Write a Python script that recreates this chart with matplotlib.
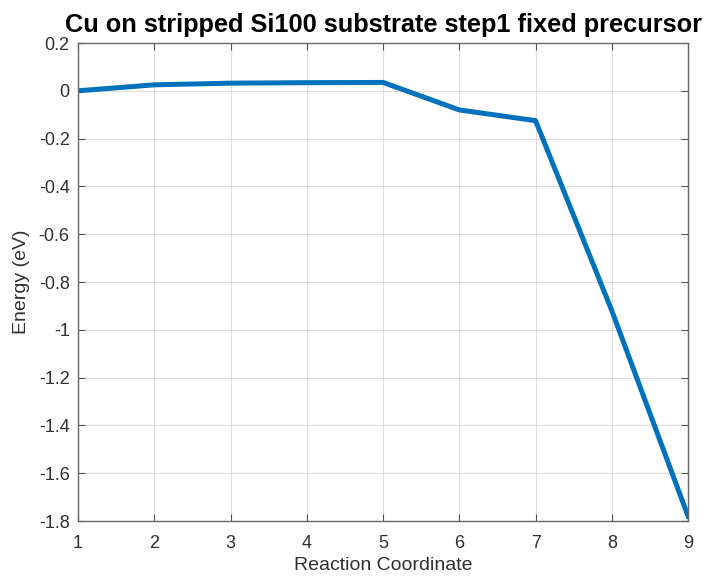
import numpy as np
import matplotlib.pyplot as plt

plt.rcParams['font.family'] = ['Liberation Sans', 'DejaVu Sans']

# reaction coordinate vs energy
coord = [1, 2, 3, 4, 5, 6, 7, 8, 9]
energy = [0.0, 0.025, 0.032, 0.034, 0.035, -0.08, -0.125, -0.92, -1.78]

fig = plt.figure(figsize=(7.16, 5.78), dpi=100)
ax = fig.add_axes([0.109, 0.0986, 0.852, 0.827])

ax.plot(coord, energy, color='#0072BD', linewidth=3.6)

ax.set_xlim(1, 9)
ax.set_ylim(-1.8, 0.2)
ax.set_xticks(np.arange(1, 10))
yt = np.round(np.arange(-1.8, 0.21, 0.2), 1)
ax.set_yticks(yt)
ax.set_yticklabels(['0' if v == 0 else '%g' % v for v in yt])

ax.grid(True, color='#dcdcdc', linewidth=0.8)
ax.tick_params(direction='in', length=5, labelsize=13, colors='#555555',
               labelcolor='#303030', top=True, right=True)
ax.tick_params(axis='x', pad=10)
ax.tick_params(axis='y', pad=6)
for s in ax.spines.values():
    s.set_color('#666666')
    s.set_linewidth(1.0)

ax.set_xlabel('Reaction Coordinate', fontsize=14, color='#303030', labelpad=4)
ax.set_ylabel('Energy (eV)', fontsize=14, color='#303030', labelpad=6)
ax.set_title('Cu on stripped Si100 substrate step1 fixed precursor',
             fontsize=18.3, fontweight='bold', pad=8)

fig.savefig('out.png')
